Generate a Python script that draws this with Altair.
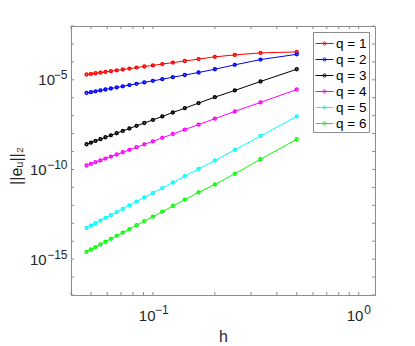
import altair as alt
import pandas as pd

# step sizes h = 1/N, N = 2..21
h = [0.5, 0.3333, 0.25, 0.2, 0.1667, 0.1429, 0.125, 0.1111, 0.1, 0.0909,
     0.0833, 0.0769, 0.0714, 0.0667, 0.0625, 0.0588, 0.0556, 0.0526, 0.05, 0.0476]

series = ["q = 1", "q = 2", "q = 3", "q = 4", "q = 5", "q = 6"]
colors = ["#ff0000", "#0000ff", "#000000", "#ff00ff", "#00ffff", "#00ff00"]

err_q1 = [3.60e-4, 3.16e-4, 2.45e-4, 1.90e-4, 1.43e-4, 1.12e-4, 9.09e-5, 7.53e-5, 6.37e-5, 5.50e-5,
          4.78e-5, 4.21e-5, 3.74e-5, 3.36e-5, 3.03e-5, 2.76e-5, 2.51e-5, 2.31e-5, 2.13e-5, 1.97e-5]
err_q2 = [2.64e-4, 1.34e-4, 6.81e-5, 3.88e-5, 2.55e-5, 1.85e-5, 1.40e-5, 1.09e-5, 8.73e-6, 7.18e-6,
          5.97e-6, 5.05e-6, 4.33e-6, 3.74e-6, 3.27e-6, 2.89e-6, 2.55e-6, 2.28e-6, 2.05e-6, 1.85e-6]
err_q3 = [3.88e-5, 8.05e-6, 2.55e-6, 1.08e-6, 5.01e-7, 2.62e-7, 1.50e-7, 9.06e-8, 5.81e-8, 3.91e-8,
          2.70e-8, 1.93e-8, 1.41e-8, 1.05e-8, 8.05e-9, 6.25e-9, 4.88e-9, 3.89e-9, 3.13e-9, 2.55e-9]
err_q4 = [2.89e-6, 5.48e-7, 1.73e-7, 6.81e-8, 3.16e-8, 1.66e-8, 9.51e-9, 5.78e-9, 3.72e-9, 2.51e-9,
          1.74e-9, 1.24e-9, 9.12e-10, 6.84e-10, 5.24e-10, 4.06e-10, 3.18e-10, 2.54e-10, 2.05e-10, 1.67e-10]
err_q5 = [9.14e-8, 7.36e-9, 1.23e-9, 3.16e-10, 1.07e-10, 4.20e-11, 1.88e-11, 9.16e-12, 4.85e-12, 2.75e-12,
          1.62e-12, 9.98e-13, 6.38e-13, 4.21e-13, 2.86e-13, 1.99e-13, 1.39e-13, 1.00e-13, 7.36e-14, 5.48e-14]
err_q6 = [4.82e-9, 3.73e-10, 5.70e-11, 1.47e-11, 5.27e-12, 2.06e-12, 9.18e-13, 4.45e-13, 2.34e-13, 1.32e-13,
          7.73e-14, 4.74e-14, 3.02e-14, 1.99e-14, 1.35e-14, 9.33e-15, 6.52e-15, 4.69e-15, 3.43e-15, 2.55e-15]

x_ticks = [0.04, 0.05, 0.06, 0.07, 0.08, 0.09, 0.1, 0.2, 0.3, 0.4, 0.5, 0.6, 0.7, 0.8, 0.9, 1.0]
y_ticks = [1e-17, 1e-16, 1e-15, 1e-14, 1e-13, 1e-12, 1e-11, 1e-10, 1e-9, 1e-8,
           1e-7, 1e-6, 1e-5, 1e-4, 1e-3, 1e-2]
x_labels = [0.1, 1.0]
y_labels = [1e-15, 1e-10, 1e-5]

all_err = [err_q1, err_q2, err_q3, err_q4, err_q5, err_q6]
rows = []
for name, errs in zip(series, all_err):
    for hv, ev in zip(h, errs):
        rows.append({"h": hv, "err": ev, "q": name})
df = pd.DataFrame(rows)

W, H = 304, 269
GRAY = "#8c8c8c"
TXT = "#262626"
FONT = "Liberation Sans"
NB = "\u00a0"   # no-break space used as spacer
ZW = "\u200b"   # zero-width guard so spacers are not trimmed

xscale = alt.Scale(type="log", domain=[0.04, 1.2], nice=False)
yscale = alt.Scale(type="log", domain=[1e-17, 1e-2], nice=False)

LEG_PATH = "M-1,0L1,0M-0.18,0A0.18,0.18,0,1,1,0.18,0A0.18,0.18,0,1,1,-0.18,0"
legend = alt.Legend(title=None, orient="none", legendX=242, legendY=6,
                    symbolType=LEG_PATH, symbolSize=324, symbolStrokeWidth=1,
                    labelFontSize=13.5, labelFont=FONT, labelColor="#000000",
                    padding=2, strokeColor=GRAY, fillColor="white", rowPadding=0,
                    labelOffset=2)
color = alt.Color("q:N", scale=alt.Scale(domain=series, range=colors), legend=legend)

# base "10" of each tick label (with a spacer where the exponent goes)
xaxis_base = alt.Axis(values=x_labels, orient="bottom",
                      labelExpr=f"datum.value < 0.5 ? '10{NB*3}{ZW}' : '10{NB*2}{ZW}'",
                      labelAlign="center", labelFontSize=15, labelPadding=13,
                      ticks=False, tickSize=0, grid=False, title="h",
                      titleY=33, titleBaseline="top", titleFontSize=16)
yaxis_base = alt.Axis(values=y_labels, orient="left",
                      labelExpr=f"datum.value > 1e-6 ? '10{NB*3}{ZW}' : '10{NB*5}{ZW}'",
                      labelAlign="right", labelFontSize=15, labelPadding=4,
                      ticks=False, tickSize=0, grid=False, title="||eᵤ||₂",
                      titleX=-47, titleY=139.5, titleAngle=270, titleBaseline="bottom",
                      titleFontSize=16)
# exponents, smaller and raised
xaxis_exp = alt.Axis(values=x_labels, orient="bottom",
                     labelExpr=f"datum.value < 0.5 ? '{ZW}{NB*5}−1' : '{ZW}{NB*5}0'",
                     labelAlign="center", labelFontSize=12, labelPadding=9.5,
                     ticks=False, tickSize=0, grid=False, domain=False, title=None)
yaxis_exp = alt.Axis(values=y_labels, orient="left",
                     labelExpr="datum.value > 1e-6 ? '−5' : (datum.value > 1e-11 ? '−10' : '−15')",
                     labelAlign="right", labelFontSize=12, labelPadding=4, labelOffset=-5,
                     ticks=False, tickSize=0, grid=False, domain=False, title=None)

base = alt.Chart(df)
lines = base.mark_line(strokeWidth=1).encode(
    x=alt.X("h:Q", scale=xscale, axis=xaxis_base),
    y=alt.Y("err:Q", scale=yscale, axis=yaxis_base),
    color=color)
points = base.mark_point(shape="circle", size=8, strokeWidth=1.5, filled=False, opacity=1).encode(
    x=alt.X("h:Q", scale=xscale, axis=xaxis_exp),
    y=alt.Y("err:Q", scale=yscale, axis=yaxis_exp),
    color=color)

xt = pd.DataFrame({"h": x_ticks})
yt = pd.DataFrame({"err": y_ticks})
XN = alt.X("h:Q", scale=xscale, axis=None)
YN = alt.Y("err:Q", scale=yscale, axis=None)
tick_bottom = alt.Chart(xt).mark_rule(color=GRAY, strokeWidth=1).encode(
    x=XN, y=alt.value(H), y2=alt.value(H - 3))
tick_top = alt.Chart(xt).mark_rule(color=GRAY, strokeWidth=1).encode(
    x=XN, y=alt.value(0), y2=alt.value(3))
tick_left = alt.Chart(yt).mark_rule(color=GRAY, strokeWidth=1).encode(
    y=YN, x=alt.value(0), x2=alt.value(3))
tick_right = alt.Chart(yt).mark_rule(color=GRAY, strokeWidth=1).encode(
    y=YN, x=alt.value(W), x2=alt.value(W - 3))

chart = alt.layer(lines, points, tick_bottom, tick_top, tick_left, tick_right).resolve_axis(
    x="independent", y="independent"
).properties(
    width=W, height=H,
    autosize=alt.AutoSizeParams(type="none"),
    padding={"left": 63, "top": 18, "right": 32, "bottom": 51},
    background="white",
).configure_view(stroke=GRAY, strokeWidth=1).configure_axis(
    domainColor=GRAY, labelColor=TXT, titleColor=TXT,
    labelFont=FONT, titleFont=FONT, titleFontWeight="normal",
    labelOverlap=False,
)

chart.save("out.html", embed_options={"renderer": "svg", "actions": False})
